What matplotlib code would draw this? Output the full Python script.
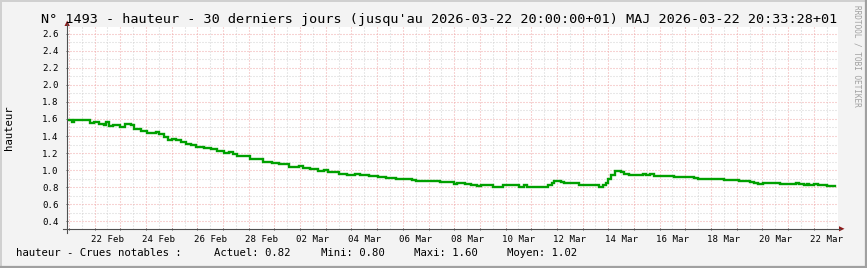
import matplotlib
matplotlib.use("Agg")
import matplotlib.pyplot as plt
import numpy as np
from matplotlib.lines import Line2D
from matplotlib.patches import Polygon

# ---------------- data ----------------
start = np.datetime64("2026-02-21T00:00")
hours = [-2, 3, 5, 20, 23, 28, 33, 35, 37, 41, 48, 52, 58, 61, 67, 73, 77, 81, 84, 89,
         93, 96, 100, 105, 109, 114, 119, 126, 133, 138, 145, 150, 153, 157, 163, 169,
         181, 184, 190, 196, 206, 215, 219, 225, 233, 238, 242, 252, 255, 260, 267, 272,
         280, 289, 296, 306, 309, 321, 324, 347, 360, 363, 370, 376, 381, 385, 396, 406,
         409, 421, 425, 428, 448, 451, 453, 460, 463, 477, 489, 495, 499, 502, 504, 507,
         510, 516, 519, 523, 536, 539, 543, 547, 565, 584, 588, 594, 612, 626, 636, 640,
         644, 649, 664, 679, 682, 687, 690, 692, 696, 700, 708, 716]
hauteur = [1.59, 1.57, 1.59, 1.55, 1.56, 1.54, 1.53, 1.56, 1.52, 1.53, 1.51, 1.54, 1.53,
           1.48, 1.46, 1.44, 1.43, 1.45, 1.42, 1.39, 1.35, 1.37, 1.35, 1.33, 1.31, 1.29,
           1.27, 1.26, 1.25, 1.22, 1.20, 1.21, 1.19, 1.17, 1.16, 1.13, 1.10, 1.09, 1.08,
           1.07, 1.04, 1.05, 1.02, 1.01, 0.99, 1.00, 0.98, 0.95, 0.96, 0.94, 0.95, 0.94,
           0.93, 0.92, 0.91, 0.90, 0.89, 0.88, 0.87, 0.86, 0.84, 0.85, 0.84, 0.83, 0.81,
           0.83, 0.80, 0.83, 0.82, 0.80, 0.83, 0.80, 0.83, 0.85, 0.87, 0.86, 0.85, 0.83,
           0.82, 0.80, 0.82, 0.85, 0.89, 0.94, 0.99, 0.98, 0.96, 0.94, 0.95, 0.94, 0.95,
           0.93, 0.92, 0.91, 0.90, 0.89, 0.88, 0.87, 0.86, 0.85, 0.84, 0.85, 0.84, 0.85,
           0.84, 0.83, 0.84, 0.82, 0.84, 0.83, 0.81, 0.81]
xtick_labels = ["22 Feb", "24 Feb", "26 Feb", "28 Feb", "02 Mar", "04 Mar", "06 Mar",
                "08 Mar", "10 Mar", "12 Mar", "14 Mar", "16 Mar", "18 Mar", "20 Mar", "22 Mar"]
ytick_values = [0.4, 0.6, 0.8, 1.0, 1.2, 1.4, 1.6, 1.8, 2.0, 2.2, 2.4, 2.6]
title = ("N° 1493 - hauteur - 30 derniers jours (jusqu'au 2026-03-22 20:00:00+01) "
         "MAJ 2026-03-22 20:33:28+01")
legend_items = ["hauteur - Crues notables :", "Actuel: 0.82", "Mini: 0.80",
                "Maxi: 1.60", "Moyen: 1.02"]

# ---------------- figure ----------------
W, H = 867, 268
MONO = "DejaVu Sans Mono"
plt.rcParams["lines.scale_dashes"] = False
fig = plt.figure(figsize=(W / 100, H / 100), dpi=100, facecolor="#f3f3f3")


def fx(x):
    return x / W


def fy(y):
    return 1 - y / H


ax = fig.add_axes([fx(67), fy(229), (838 - 67) / W, (229 - 27) / H])
ax.set_facecolor("white")
for s in ax.spines.values():
    s.set_visible(False)

times = start + np.array(hours) * np.timedelta64(60, "m")
xmin = np.datetime64("2026-02-20T22:10")
xmax = np.datetime64("2026-03-22T22:40")
ax.set_xlim(xmin, xmax)
ax.set_ylim(0.309, 2.679)

# grid
dot = (0, (0.72, 1.44))
major_col = "#f0a8a8"
minor_col = "#d2d2d2"
days = np.arange(np.datetime64("2026-02-21"), np.datetime64("2026-03-23"), np.timedelta64(1, "D"))
for d in days:
    ax.axvline(d, color=major_col, lw=0.75, ls=dot, zorder=1)
    ax.axvline(d + np.timedelta64(12, "h"), color=minor_col, lw=0.75, ls=dot, zorder=0.9)
ax.axvline(days[0] - np.timedelta64(12, "h"), color=minor_col, lw=0.75, ls=dot, zorder=0.9)
for k in range(4, 27):
    v = k / 10
    if k % 2 == 0:
        ax.axhline(v, color=major_col, lw=0.75, ls=dot, zorder=1)
    else:
        ax.axhline(v, color=minor_col, lw=0.75, ls=dot, zorder=0.9)

# data
ax.plot(times, hauteur, drawstyle="steps-post", color="#00a000", lw=1.7, zorder=3,
        solid_joinstyle="miter")

# ticks
label_days = np.arange(np.datetime64("2026-02-22"), np.datetime64("2026-03-23"),
                       np.timedelta64(2, "D"))
ax.set_xticks(label_days + np.timedelta64(12, "h"))
ax.set_xticklabels(xtick_labels, fontsize=6.6, family=MONO)
ax.set_xticks(days, minor=True)
ax.tick_params(axis="x", which="major", length=0, pad=4.5, colors="#000000")
ax.tick_params(axis="x", which="minor", length=2, width=0.7, color="#555555", direction="inout")
ax.set_yticks(ytick_values)
ax.set_yticklabels([f"{v:.1f}" for v in ytick_values], fontsize=6.6, family=MONO)
ax.tick_params(axis="y", which="major", length=2, width=0.7, color="#555555", pad=5.0,
               direction="inout")

# axes lines and arrows
axis_col = "#505050"
fig.add_artist(Line2D([fx(63), fx(840)], [fy(228.8), fy(228.8)], transform=fig.transFigure,
                      color=axis_col, lw=0.8))
fig.add_artist(Line2D([fx(67.2), fx(67.2)], [fy(233), fy(24)], transform=fig.transFigure,
                      color=axis_col, lw=0.8))
arrow_col = "#8c1a1a"
fig.add_artist(Polygon([[fx(64.5), fy(26)], [fx(69.8), fy(26)], [fx(67.2), fy(20.5)]],
                       closed=True, transform=fig.transFigure, color=arrow_col, lw=0))
fig.add_artist(Polygon([[fx(839), fy(226.2)], [fx(839), fy(231.4)], [fx(844.5), fy(228.8)]],
                       closed=True, transform=fig.transFigure, color=arrow_col, lw=0))

# frame (3D look)
fig.add_artist(Line2D([0, 1], [fy(0.7), fy(0.7)], transform=fig.transFigure, color="#d0d0d0", lw=1.4))
fig.add_artist(Line2D([fx(0.7), fx(0.7)], [0, 1], transform=fig.transFigure, color="#d0d0d0", lw=1.4))
fig.add_artist(Line2D([0, 1], [fy(267), fy(267)], transform=fig.transFigure, color="#a0a0a0", lw=1.6))
fig.add_artist(Line2D([fx(866), fx(866)], [0, 1], transform=fig.transFigure, color="#a0a0a0", lw=1.6))

# texts
fig.text(fx(439.5), fy(19), title, ha="center", va="center", family=MONO, fontsize=9.7,
         color="#000000")
fig.text(fx(9.5), fy(128), "hauteur", rotation=90, ha="center", va="center", family=MONO,
         fontsize=7.7, color="#000000")
fig.text(fx(856.7), fy(5), "RRDTOOL / TOBI OETIKER", rotation=-90, ha="center", va="top",
         family=MONO, fontsize=5.6, color="#a0a0a0")
legend_x = [16, 214.3, 320.7, 414.3, 506.7]
for lx, txt in zip(legend_x, legend_items):
    fig.text(fx(lx), fy(253.3), txt, ha="left", va="center", family=MONO, fontsize=7.7,
             color="#000000")

fig.savefig("out.png", dpi=100, facecolor=fig.get_facecolor())
